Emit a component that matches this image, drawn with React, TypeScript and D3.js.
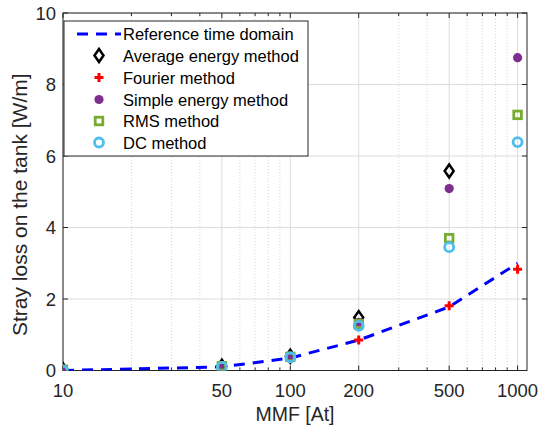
import React from "react";
import * as d3 from "d3";

const mmf = [10, 50, 100, 200, 500, 1000];
const refTime = [0.0, 0.1, 0.35, 0.85, 1.78, 3.0];
const fourier = [0.0, 0.1, 0.37, 0.85, 1.81, 2.83];
const avgEnergyX = [10, 50, 100, 200, 500];
const avgEnergy = [0.02, 0.12, 0.4, 1.48, 5.58];
const simpleEnergy = [0.0, 0.1, 0.38, 1.35, 5.09, 8.75];
const rms = [0.02, 0.12, 0.38, 1.3, 3.7, 7.15];
const dc = [0.0, 0.1, 0.37, 1.25, 3.45, 6.39];
const xTicks = [10, 50, 100, 200, 500, 1000];
const xMinor = [20, 30, 40, 60, 70, 80, 90, 300, 400, 600, 700, 800, 900];
const yTicks = [0, 2, 4, 6, 8, 10];
const legendLabels = [
  "Reference time domain",
  "Average energy method",
  "Fourier method",
  "Simple energy method",
  "RMS method",
  "DC method",
];

const W = 538, H = 428;
const L = 63, R = 527, T = 13, B = 370.5;
const font = "'Liberation Sans', Arial, Helvetica, sans-serif";
const axisCol = "#262626";

export default function App() {
  const x = d3.scaleLog().domain([10, 1100]).range([L, R]);
  const y = d3.scaleLinear().domain([0, 10]).range([B, T]);
  const line = d3.line<number>().x((_, i) => x(mmf[i])).y((v) => y(v));

  const diamond = (cx: number, cy: number, k: number) => (
    <path key={k} d={`M${cx},${cy - 6.5}L${cx + 4.5},${cy}L${cx},${cy + 6.5}L${cx - 4.5},${cy}Z`}
      fill="none" stroke="#000" strokeWidth={2.5} />
  );
  const plus = (cx: number, cy: number, k: number) => (
    <path key={k} d={`M${cx - 4.5},${cy}H${cx + 4.5}M${cx},${cy - 4.5}V${cy + 4.5}`}
      stroke="#FF0000" strokeWidth={3} />
  );
  const purple = (cx: number, cy: number, k: number) => (
    <circle key={k} cx={cx} cy={cy} r={4.6} fill="#7E2F8E" />
  );
  const square = (cx: number, cy: number, k: number) => (
    <rect key={k} x={cx - 3.8} y={cy - 3.8} width={7.6} height={7.6} fill="none" stroke="#77AC30" strokeWidth={2.8} />
  );
  const ring = (cx: number, cy: number, k: number) => (
    <circle key={k} cx={cx} cy={cy} r={4.5} fill="none" stroke="#4DBEEE" strokeWidth={2.8} />
  );

  const legY = [34, 55.5, 77.5, 99.5, 121, 142.5];
  const legMX = 99;

  return (
    <svg width={W} height={H} style={{ position: "absolute", left: 0, top: 0 }} fontFamily={font}>
      <rect x={0} y={0} width={W} height={H} fill="#fff" />
      <defs>
        <clipPath id="plot"><rect x={L} y={T} width={R - L} height={B - T} /></clipPath>
      </defs>
      {/* grid */}
      {xMinor.map((v) => (
        <line key={"gm" + v} x1={x(v)} x2={x(v)} y1={T} y2={B} stroke="#d8d8d8" strokeWidth={1} strokeDasharray="1,2" />
      ))}
      {xTicks.map((v) => (
        <line key={"gx" + v} x1={x(v)} x2={x(v)} y1={T} y2={B} stroke="#dcdcdc" strokeWidth={1} />
      ))}
      {yTicks.map((v) => (
        <line key={"gy" + v} x1={L} x2={R} y1={y(v)} y2={y(v)} stroke="#dcdcdc" strokeWidth={1} />
      ))}
      {/* ticks */}
      {xTicks.map((v) => (
        <g key={"tx" + v}>
          <line x1={x(v)} x2={x(v)} y1={B} y2={B - 5} stroke={axisCol} />
          <line x1={x(v)} x2={x(v)} y1={T} y2={T + 5} stroke={axisCol} />
        </g>
      ))}
      {xMinor.map((v) => (
        <g key={"tm" + v}>
          <line x1={x(v)} x2={x(v)} y1={B} y2={B - 3} stroke={axisCol} />
          <line x1={x(v)} x2={x(v)} y1={T} y2={T + 3} stroke={axisCol} />
        </g>
      ))}
      {yTicks.map((v) => (
        <g key={"ty" + v}>
          <line x1={L} x2={L + 5} y1={y(v)} y2={y(v)} stroke={axisCol} />
          <line x1={R} x2={R - 5} y1={y(v)} y2={y(v)} stroke={axisCol} />
        </g>
      ))}
      <rect x={L} y={T} width={R - L} height={B - T} fill="none" stroke={axisCol} strokeWidth={1} />
      {/* data */}
      <g clipPath="url(#plot)">
        <path d={line(refTime) || ""} fill="none" stroke="#0000FF" strokeWidth={3} strokeDasharray="11,8" />
        {avgEnergy.map((v, i) => diamond(x(avgEnergyX[i]), y(v), i))}
        {fourier.map((v, i) => plus(x(mmf[i]), y(v), i))}
        {simpleEnergy.map((v, i) => purple(x(mmf[i]), y(v), i))}
        {rms.map((v, i) => square(x(mmf[i]), y(v), i))}
        {dc.map((v, i) => ring(x(mmf[i]), y(v), i))}
      </g>
      {/* tick labels */}
      {xTicks.map((v) => (
        <text key={"lx" + v} x={x(v)} y={397} textAnchor="middle" fontSize={18.5} fill={axisCol}>{v}</text>
      ))}
      {yTicks.map((v) => (
        <text key={"ly" + v} x={56} y={y(v) + 6.5} textAnchor="end" fontSize={18.5} fill={axisCol}>{v}</text>
      ))}
      <text x={(L + R) / 2} y={421} textAnchor="middle" fontSize={19.5} fill={axisCol}>MMF [At]</text>
      <text transform={`translate(26.5,${(T + B) / 2 + 13}) rotate(-90)`} textAnchor="middle" fontSize={21} fill={axisCol}>
        Stray loss on the tank [W/m]
      </text>
      {/* legend */}
      <rect x={64} y={21} width={244} height={135} fill="#fff" stroke={axisCol} strokeWidth={1} />
      <line x1={77} x2={121} y1={legY[0]} y2={legY[0]} stroke="#0000FF" strokeWidth={3} strokeDasharray="11,8" />
      {diamond(legMX, legY[1], 101)}
      {plus(legMX, legY[2], 102)}
      {purple(legMX, legY[3], 103)}
      {square(legMX, legY[4], 104)}
      {ring(legMX, legY[5], 105)}
      {legendLabels.map((s, i) => (
        <text key={"lg" + i} x={123} y={legY[i] + 6} fontSize={16.5} fill="#000">{s}</text>
      ))}
    </svg>
  );
}
